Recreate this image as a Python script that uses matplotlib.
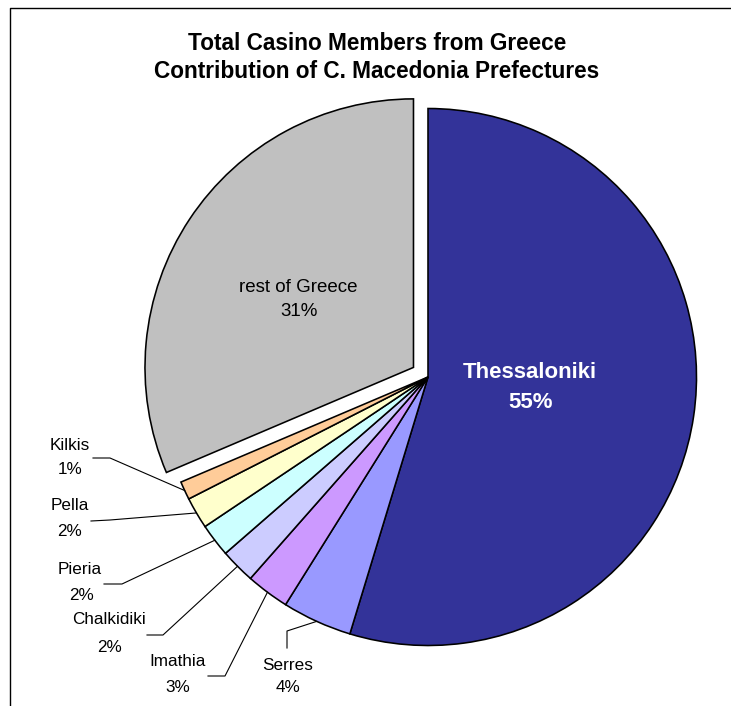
import math
import matplotlib
matplotlib.use("Agg")
import matplotlib.pyplot as plt
from matplotlib.lines import Line2D

plt.rcParams['font.family'] = ['Liberation Sans', 'DejaVu Sans']

# Share of casino members (percent of total) by area
categories = ["Thessaloniki", "Serres", "Imathia", "Chalkidiki",
              "Pieria", "Pella", "Kilkis", "rest of Greece"]
shares = [54.7, 4.2, 2.6, 2.1, 2.0, 1.9, 1.1, 31.4]
colors = ["#333399", "#9999FF", "#CC99FF", "#CCCCFF",
          "#CCFFFF", "#FFFFCC", "#FFCC99", "#C0C0C0"]
title_lines = ["Total Casino Members from Greece",
               "Contribution of C. Macedonia Prefectures"]

W, H = 731, 706
fig = plt.figure(figsize=(W / 100, H / 100), dpi=100)
ax = fig.add_axes([0, 0, 1, 1])


def Y(y):
    """Convert a top-down pixel row to the axes' bottom-up coordinate."""
    return H - y


cx, cy, radius = 428, Y(377), 268.5
explode = [0, 0, 0, 0, 0, 0, 0, 17.4]

wedges, _ = ax.pie(shares, colors=colors, startangle=90, counterclock=False,
                   center=(cx, cy), radius=radius, explode=explode,
                   wedgeprops=dict(edgecolor="black", linewidth=1.15,
                                   joinstyle="miter"),
                   frame=True)
ax.set_xlim(0, W)
ax.set_ylim(0, H)
ax.set_aspect("equal")
ax.axis("off")

total = sum(shares)
pct = [f"{round(v / total * 100):.0f}%" for v in shares]

# Frame around the chart area
ax.add_line(Line2D([9.5, 9.5, W + 5], [Y(H + 5), Y(7.5), Y(7.5)],
                   color="black", linewidth=1.0, clip_on=False))

# Title
ax.text(377, Y(44), title_lines[0], ha="center", va="center",
        fontsize=16.3, fontweight="bold")
ax.text(377, Y(71), title_lines[1], ha="center", va="center",
        fontsize=16.3, fontweight="bold")

# Labels inside the two large slices
ax.text(530, Y(373), categories[0], ha="center", va="center",
        fontsize=16, fontweight="bold", color="white")
ax.text(531, Y(402), pct[0], ha="center", va="center",
        fontsize=16, fontweight="bold", color="white")
ax.text(298, Y(287), categories[7], ha="center", va="center", fontsize=13.5)
ax.text(299, Y(312), pct[7], ha="center", va="center", fontsize=13.5)

# Outside labels: (name centre, percent centre, leader start, leader elbow)
outside = {
    1: ((288, 665), (288, 688), (287, 648), (287, 631)),
    2: ((178, 661), (178, 687), (208, 676), (225, 676)),
    3: ((109, 620), (109, 647), (147, 635), (163, 635)),
    4: ((80, 570), (82, 596), (104, 584), (122, 584)),
    5: ((70, 505), (70, 532), (91, 521), (110, 520)),
    6: ((70, 446), (70, 470), (93, 458), (110, 458)),
}
for i, (name_xy, pct_xy, start, elbow) in outside.items():
    w = wedges[i]
    mid = math.radians(0.5 * (w.theta1 + w.theta2))
    ax_x = w.center[0] + w.r * math.cos(mid)
    ax_y = w.center[1] + w.r * math.sin(mid)
    ax.add_line(Line2D([start[0], elbow[0], ax_x],
                       [Y(start[1]), Y(elbow[1]), ax_y],
                       color="black", linewidth=0.8))
    ax.text(name_xy[0], Y(name_xy[1]), categories[i], ha="center",
            va="center", fontsize=12.3)
    ax.text(pct_xy[0], Y(pct_xy[1]), pct[i], ha="center",
            va="center", fontsize=12.3)

fig.savefig("out.png", dpi=100)
